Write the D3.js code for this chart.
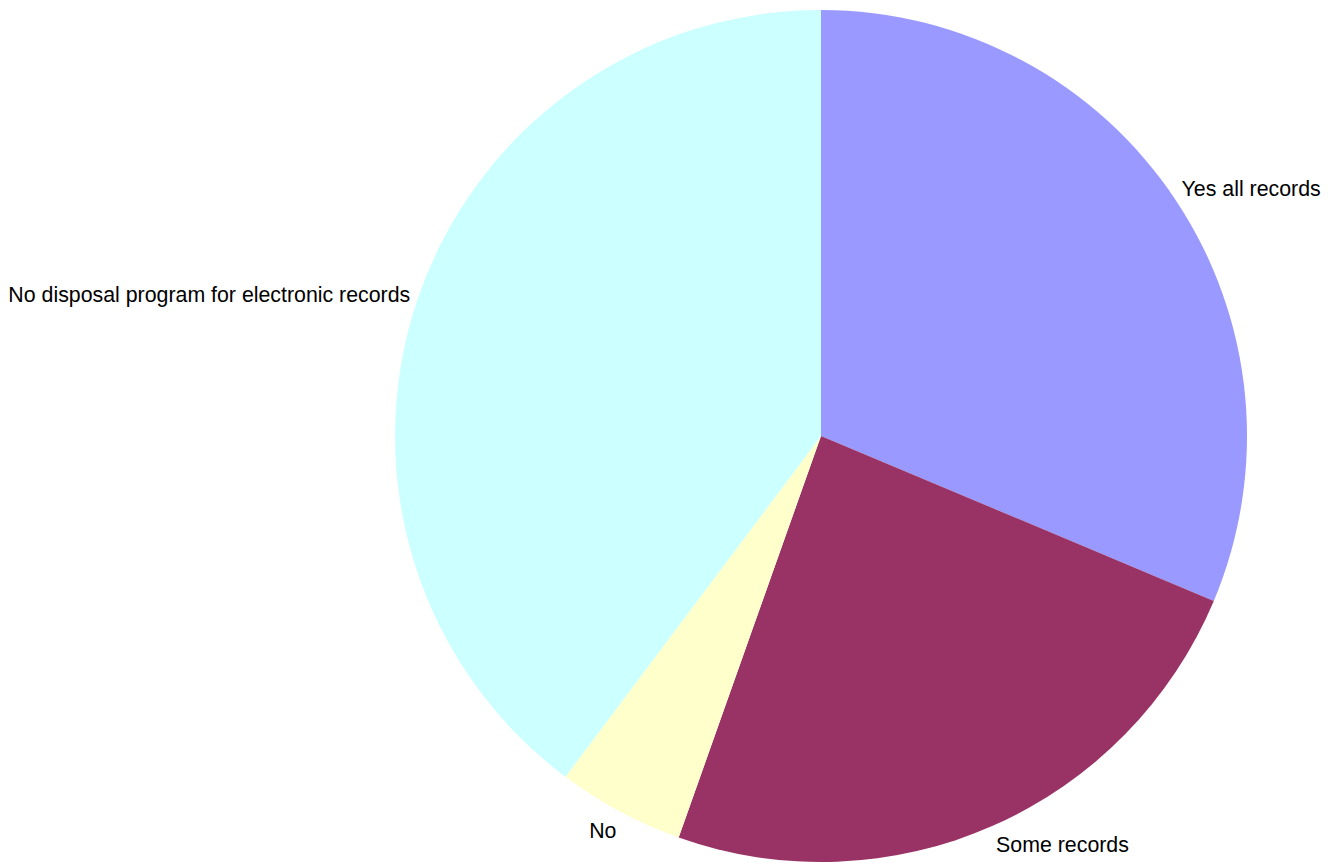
<!DOCTYPE html>
<html>
<head>
<meta charset="utf-8">
<script src="https://cdn.jsdelivr.net/npm/d3@7"></script>
<style>
  html, body { margin: 0; padding: 0; background: #ffffff; }
  svg { display: block; }
</style>
</head>
<body>
<svg id="chart" width="1328" height="863"></svg>
<script>
const categories = ["Yes all records", "Some records", "No", "No disposal program for electronic records"];
const values = [26, 20, 4, 33];
const colors = ["#9999ff", "#993366", "#ffffcc", "#ccffff"];

const width = 1328, height = 863;
const cx = 821, cy = 436, radius = 426;
const labelRx = 433, labelRy = 447;

const svg = d3.select("#chart");
const g = svg.append("g").attr("transform", `translate(${cx},${cy})`);

const pie = d3.pie().sort(null).value(d => d.value);
const data = categories.map((c, i) => ({ name: c, value: values[i], color: colors[i] }));
const arcs = pie(data);
const arc = d3.arc().innerRadius(0).outerRadius(radius);

g.selectAll("path.slice")
  .data(arcs)
  .join("path")
  .attr("class", "slice")
  .attr("d", arc)
  .attr("fill", d => d.data.color);

g.selectAll("text.label")
  .data(arcs)
  .join("text")
  .attr("class", "label")
  .attr("x", d => Math.sin((d.startAngle + d.endAngle) / 2) * labelRx)
  .attr("y", d => -Math.cos((d.startAngle + d.endAngle) / 2) * labelRy)
  .attr("dy", "0.36em")
  .attr("text-anchor", d => Math.sin((d.startAngle + d.endAngle) / 2) >= 0 ? "start" : "end")
  .attr("font-family", "Liberation Sans, Arial, Helvetica, sans-serif")
  .attr("font-size", "21.33px")
  .attr("fill", "#000000")
  .text(d => d.data.name);
</script>
</body>
</html>
